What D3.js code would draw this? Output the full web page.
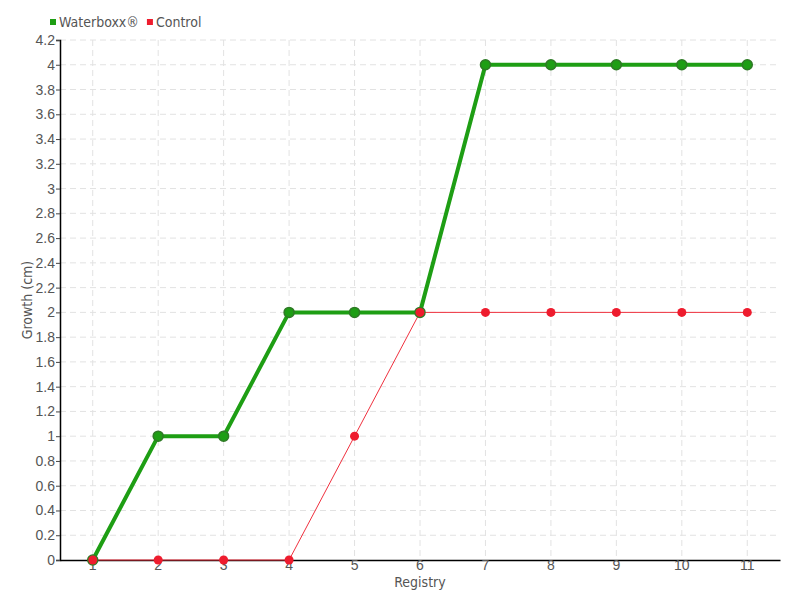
<!DOCTYPE html>
<html>
<head>
<meta charset="utf-8">
<script src="https://cdn.jsdelivr.net/npm/d3@7"></script>
<style>
  body { margin: 0; background: #fff; }
  svg { display: block; font-family: "Liberation Sans Narrow", "DejaVu Sans Condensed", sans-serif; }
</style>
</head>
<body>
<svg></svg>
<script>
// data
const registry = ["1", "2", "3", "4", "5", "6", "7", "8", "9", "10", "11"];
const waterboxx = [0, 1, 1, 2, 2, 2, 4, 4, 4, 4, 4];
const control = [0, 0, 0, 0, 1, 2, 2, 2, 2, 2, 2];
const yTicks = d3.range(0, 22).map(i => +(i * 0.2).toFixed(1));

function drawChart() {
    let margin = {top: 40, right: 20, bottom: 40, left: 60};
    let width = 800 - margin.left - margin.right;
    let height = 600 - margin.top - margin.bottom;

    let svg = d3.select("svg")
        .attr("width", 800)
        .attr("height", 600)
        .append("g")
        .attr("transform", "translate(" + margin.left + "," + margin.top + ")");

    let x = d3.scaleBand().domain(registry).range([0, width]);
    let y = d3.scaleLinear().domain([0, 4.2]).range([height, 0]);
    let cx = d => x(d) + x.bandwidth() / 2;

    // grid
    svg.append("g").selectAll("line")
        .data(yTicks.slice(1))
        .join("line")
        .attr("x1", 0).attr("x2", width)
        .attr("y1", d => y(d)).attr("y2", d => y(d))
        .attr("stroke", "#e2e2e2")
        .attr("stroke-dasharray", "6,4");

    svg.append("g").selectAll("line")
        .data(registry)
        .join("line")
        .attr("x1", d => cx(d)).attr("x2", d => cx(d))
        .attr("y1", 0).attr("y2", height)
        .attr("stroke", "#e2e2e2")
        .attr("stroke-dasharray", "6,4");

    // axes
    let yAxis = svg.append("g")
        .call(d3.axisLeft(y).tickValues(yTicks).tickSize(4).tickFormat(d => d3.format("~g")(d)));
    yAxis.select(".domain").attr("stroke", "#000").attr("stroke-width", 1.5);
    yAxis.selectAll(".tick line").attr("stroke", "#444");
    yAxis.selectAll(".tick text")
        .attr("fill", "#555")
        .attr("font-size", "14px")
        .attr("x", -5);

    let xAxis = svg.append("g")
        .attr("transform", "translate(0," + height + ")")
        .call(d3.axisBottom(x).tickSize(0).tickSizeOuter(0));
    xAxis.select(".domain").attr("stroke", "#000").attr("stroke-width", 1.5);
    xAxis.selectAll(".tick text")
        .attr("fill", "#555")
        .attr("font-size", "14px")
        .attr("dy", "0.35em")
        .attr("y", 5);

    svg.append("text")
        .attr("x", width / 2)
        .attr("y", height + 27)
        .attr("text-anchor", "middle")
        .attr("font-size", "14px")
        .attr("fill", "#555")
        .text("Registry");

    svg.append("text")
        .attr("transform", "translate(" + (-28) + "," + (height / 2) + ") rotate(-90)")
        .attr("text-anchor", "middle")
        .attr("font-size", "14px")
        .attr("fill", "#555")
        .text("Growth (cm)");

    // series
    let line = d3.line().x((d, i) => cx(registry[i])).y(d => y(d));

    svg.append("path")
        .datum(control)
        .attr("d", line)
        .attr("fill", "none")
        .attr("stroke", "#f0303e")
        .attr("stroke-width", 1);

    svg.append("path")
        .datum(waterboxx)
        .attr("d", line)
        .attr("fill", "none")
        .attr("stroke", "#1e9e14")
        .attr("stroke-width", 4);

    svg.append("g").selectAll("circle")
        .data(waterboxx)
        .join("circle")
        .attr("cx", (d, i) => cx(registry[i]))
        .attr("cy", d => y(d))
        .attr("r", 5)
        .attr("fill", "#1e9e14")
        .attr("stroke", "#2f7a26")
        .attr("stroke-width", 1.5);

    svg.append("g").selectAll("circle")
        .data(control)
        .join("circle")
        .attr("cx", (d, i) => cx(registry[i]))
        .attr("cy", d => y(d))
        .attr("r", 4.5)
        .attr("fill", "#ee1c2e");

    // legend
    let legend = d3.select("svg").append("g");
    let items = [{name: "Waterboxx®", color: "#1e9e14"}, {name: "Control", color: "#ee1c2e"}];
    let lx = 50;
    items.forEach(it => {
        legend.append("rect")
            .attr("x", lx).attr("y", 19)
            .attr("width", 6).attr("height", 6)
            .attr("fill", it.color);
        let t = legend.append("text")
            .attr("x", lx + 9).attr("y", 27)
            .attr("font-size", "14px")
            .attr("fill", "#555")
            .text(it.name);
        lx += 9 + t.node().getComputedTextLength() + 8;
    });
}
drawChart();
</script>
</body>
</html>
